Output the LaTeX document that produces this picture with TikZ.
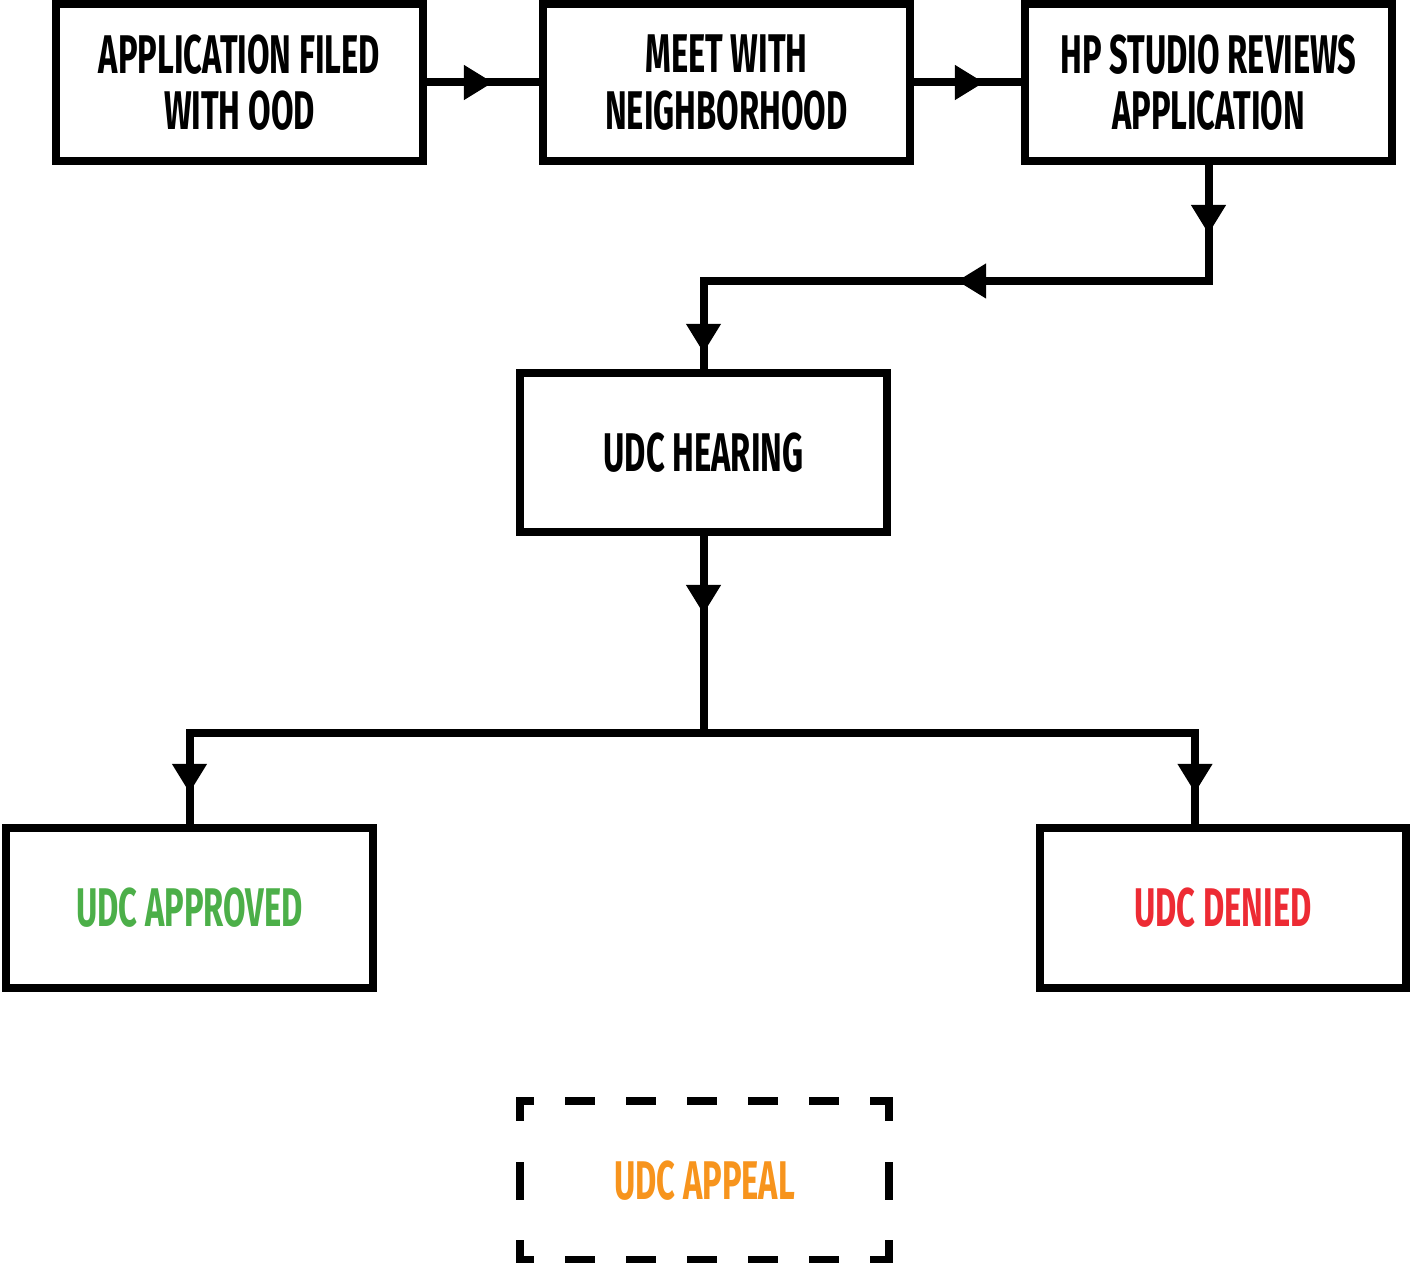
\documentclass[tikz,border=0pt]{standalone}
\usepackage{fontspec}
\newfontfamily\stepfont{Fira Sans}[FakeStretch=0.6]
\usetikzlibrary{arrows.meta, decorations.markings}
\definecolor{okgreen}{RGB}{76,175,73}
\definecolor{nored}{RGB}{237,43,52}
\definecolor{appealorange}{RGB}{247,148,29}

\begin{document}
\begin{tikzpicture}[
    x=0.02cm, y=-0.02cm,
    >={Triangle[length=0.58cm, width=0.66cm]},
    every node/.style={draw, line width=0.16cm, minimum width=7.34cm, minimum height=3.16cm,
        outer sep=0pt, align=center, font=\stepfont\bfseries\fontsize{31}{32}\selectfont},
    link/.style={draw, line width=0.16cm},
    midarrow/.style={postaction={decorate}, decoration={markings, mark=at position #1 with {\arrow{>}}}},
    hdash/.style={line width=0.16cm, line cap=rect, dash pattern=on 0.44cm off 0.78cm, dash phase=0.24cm},
    vdash/.style={line width=0.16cm, line cap=rect, dash pattern=on 0.32cm off 0.98cm on 0.6cm off 0.96cm},
]
\useasboundingbox (0,0) rectangle (1411,1263);

\node (filed) at (239.5,82.5) {APPLICATION FILED\\WITH OOD};
\node (meet) at (726.5,82.5) {MEET WITH\\NEIGHBORHOOD};
\node (review) at (1208.5,82.5) {HP STUDIO REVIEWS\\APPLICATION};
\node[minimum height=3.18cm] (hearing) at (703.5,452.5) {UDC HEARING};
\node[minimum height=3.2cm, text=okgreen] (approved) at (189.5,908) {UDC APPROVED};
\node[minimum height=3.2cm, text=nored] (denied) at (1223,908) {UDC DENIED};
\node[draw=none, minimum width=7.38cm, minimum height=3.18cm, text=appealorange] (appeal) at (704.5,1180.5) {UDC APPEAL};
\coordinate (split) at (703.5,733);

\draw[link, midarrow=1.4cm] (filed) -- (meet);
\draw[link, midarrow=1.48cm] (meet) -- (review);
\draw[link, postaction={decorate}, decoration={markings,
    mark=at position 1.45cm with {\arrow{>}},
    mark=at position 7.42cm with {\arrow{>}},
    mark=at position 13.93cm with {\arrow{>}}}]
    (review.south) -- ++(0,119.5) -| (hearing.north);
\draw[link, midarrow=1.64cm] (hearing.south) -- (split);
\draw[link, midarrow=11.48cm] (split) -| (approved.north);
\draw[link, midarrow=11.03cm] (split) -| ([xshift=-0.56cm]denied.north);

\draw[hdash] (appeal.north west) -- (appeal.north east);
\draw[hdash] (appeal.south west) -- (appeal.south east);
\draw[vdash] (appeal.north west) -- (appeal.south west);
\draw[vdash] (appeal.north east) -- (appeal.south east);
\end{tikzpicture}
\end{document}
